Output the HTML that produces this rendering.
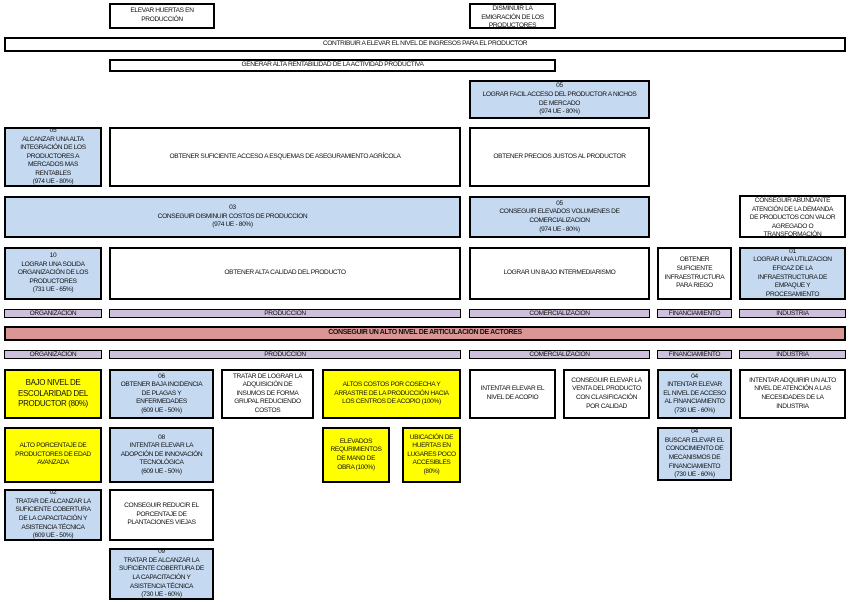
<!DOCTYPE html>
<html><head><meta charset="utf-8"><style>
body{margin:0;width:850px;height:602px;background:#fff;position:relative;overflow:hidden;font-family:"Liberation Sans",sans-serif;}
.b{position:absolute;box-sizing:border-box;border:2px solid #000;display:flex;align-items:center;justify-content:center;text-align:center;font-size:6.6px;letter-spacing:-0.35px;line-height:8.6px;color:#111;overflow:hidden;background:#fff;padding:0}
.bl{background:#c5d9f1}.lv{background:#ccc0da;border-width:1.5px;line-height:7px}.y{background:#ffff00}.r{background:#da9694;font-weight:bold;font-size:7px}
</style></head><body>
<div class="b" style="left:109px;top:3px;width:106px;height:26px">ELEVAR HUERTAS EN<br>PRODUCCIÓN</div>
<div class="b" style="left:469px;top:3px;width:87px;height:26px;align-items:flex-start">DISMINUIR LA<br>EMIGRACIÓN DE LOS<br>PRODUCTORES</div>
<div class="b" style="left:4px;top:37px;width:842px;height:15px">CONTRIBUIR A ELEVAR EL NIVEL DE INGRESOS PARA EL PRODUCTOR</div>
<div class="b" style="left:109px;top:59px;width:447px;height:13px">GENERAR ALTA RENTABILIDAD DE LA ACTIVIDAD PRODUCTIVA</div>
<div class="b bl" style="left:469px;top:80px;width:181px;height:39px">05<br>LOGRAR FACIL ACCESO DEL PRODUCTOR A NICHOS<br>DE MERCADO<br>(974 UE - 80%)</div>
<div class="b bl" style="left:4px;top:127px;width:98px;height:60px">05<br>ALCANZAR UNA ALTA<br>INTEGRACIÓN DE LOS<br>PRODUCTORES A<br>MERCADOS MAS<br>RENTABLES<br>(974 UE - 80%)</div>
<div class="b" style="left:109px;top:127px;width:352px;height:60px">OBTENER SUFICIENTE ACCESO A ESQUEMAS DE ASEGURAMIENTO AGRÍCOLA</div>
<div class="b" style="left:469px;top:127px;width:181px;height:60px">OBTENER PRECIOS JUSTOS AL PRODUCTOR</div>
<div class="b bl" style="left:4px;top:196px;width:457px;height:42px">03<br>CONSEGUIR DISMINUIR COSTOS DE PRODUCCION<br>(974 UE - 80%)</div>
<div class="b bl" style="left:469px;top:196px;width:181px;height:42px">05<br>CONSEGUIR ELEVADOS VOLUMENES DE<br>COMERCIALIZACION<br>(974 UE - 80%)</div>
<div class="b" style="left:739px;top:195px;width:107px;height:43px;align-items:flex-start">CONSEGUIR ABUNDANTE<br>ATENCIÓN DE LA DEMANDA<br>DE PRODUCTOS CON VALOR<br>AGREGADO O<br>TRANSFORMACIÓN</div>
<div class="b bl" style="left:4px;top:247px;width:98px;height:53px">10<br>LOGRAR UNA SOLIDA<br>ORGANIZACIÓN DE LOS<br>PRODUCTORES<br>(731 UE - 65%)</div>
<div class="b" style="left:109px;top:247px;width:352px;height:53px">OBTENER ALTA CALIDAD DEL PRODUCTO</div>
<div class="b" style="left:469px;top:247px;width:181px;height:53px">LOGRAR UN BAJO INTERMEDIARISMO</div>
<div class="b" style="left:657px;top:247px;width:75px;height:53px">OBTENER<br>SUFICIENTE<br>INFRAESTRUCTURA<br>PARA RIEGO</div>
<div class="b bl" style="left:739px;top:247px;width:107px;height:53px">01<br>LOGRAR UNA UTILIZACION<br>EFICAZ DE LA<br>INFRAESTRUCTURA DE<br>EMPAQUE Y<br>PROCESAMIENTO</div>
<div class="b lv" style="left:4px;top:309px;width:98px;height:9px">ORGANIZACIÓN</div>
<div class="b lv" style="left:109px;top:309px;width:352px;height:9px">PRODUCCION</div>
<div class="b lv" style="left:469px;top:309px;width:181px;height:9px">COMERCIALIZACION</div>
<div class="b lv" style="left:657px;top:309px;width:75px;height:9px">FINANCIAMIENTO</div>
<div class="b lv" style="left:739px;top:309px;width:107px;height:9px">INDUSTRIA</div>
<div class="b r" style="left:4px;top:326px;width:842px;height:15px">CONSEGUIR UN ALTO NIVEL DE ARTICULACIÓN DE ACTORES</div>
<div class="b lv" style="left:4px;top:350px;width:98px;height:9px">ORGANIZACIÓN</div>
<div class="b lv" style="left:109px;top:350px;width:352px;height:9px">PRODUCCION</div>
<div class="b lv" style="left:469px;top:350px;width:181px;height:9px">COMERCIALIZACION</div>
<div class="b lv" style="left:657px;top:350px;width:75px;height:9px">FINANCIAMIENTO</div>
<div class="b lv" style="left:739px;top:350px;width:107px;height:9px">INDUSTRIA</div>
<div class="b y" style="left:4px;top:369px;width:98px;height:50px;font-size:8px;line-height:10.5px">BAJO NIVEL DE<br>ESCOLARIDAD DEL<br>PRODUCTOR (80%)</div>
<div class="b bl" style="left:109px;top:369px;width:105px;height:50px">06<br>OBTENER BAJA INCIDENCIA<br>DE PLAGAS Y<br>ENFERMEDADES<br>(609 UE - 50%)</div>
<div class="b" style="left:221px;top:369px;width:93px;height:50px">TRATAR DE LOGRAR LA<br>ADQUISICIÓN DE<br>INSUMOS DE FORMA<br>GRUPAL REDUCIENDO<br>COSTOS</div>
<div class="b y" style="left:322px;top:369px;width:139px;height:50px">ALTOS COSTOS POR COSECHA Y<br>ARRASTRE DE LA PRODUCCIÓN HACIA<br>LOS CENTROS DE ACOPIO (100%)</div>
<div class="b" style="left:469px;top:369px;width:87px;height:50px">INTENTAR ELEVAR EL<br>NIVEL DE ACOPIO</div>
<div class="b" style="left:563px;top:369px;width:87px;height:50px">CONSEGUIR ELEVAR LA<br>VENTA DEL PRODUCTO<br>CON CLASIFICACIÓN<br>POR CALIDAD</div>
<div class="b bl" style="left:657px;top:369px;width:75px;height:50px">04<br>INTENTAR ELEVAR<br>EL NIVEL DE ACCESO<br>AL FINANCIAMIENTO<br>(730 UE - 60%)</div>
<div class="b" style="left:739px;top:369px;width:107px;height:50px">INTENTAR ADQUIRIR UN ALTO<br>NIVEL DE ATENCIÓN A LAS<br>NECESIDADES DE LA<br>INDUSTRIA</div>
<div class="b y" style="left:4px;top:427px;width:98px;height:56px">ALTO PORCENTAJE DE<br>PRODUCTORES DE EDAD<br>AVANZADA</div>
<div class="b bl" style="left:109px;top:427px;width:105px;height:56px">08<br>INTENTAR ELEVAR LA<br>ADOPCIÓN DE INNOVACIÓN<br>TECNOLÓGICA<br>(609 UE - 50%)</div>
<div class="b y" style="left:322px;top:427px;width:68px;height:56px">ELEVADOS<br>REQURIMIENTOS<br>DE MANO DE<br>OBRA (100%)</div>
<div class="b y" style="left:402px;top:427px;width:59px;height:56px">UBICACIÓN DE<br>HUERTAS EN<br>LUGARES POCO<br>ACCESIBLES<br>(80%)</div>
<div class="b bl" style="left:657px;top:427px;width:75px;height:54px">04<br>BUSCAR ELEVAR EL<br>CONOCIMIENTO DE<br>MECANISMOS DE<br>FINANCIAMIENTO<br>(730 UE - 60%)</div>
<div class="b bl" style="left:4px;top:489px;width:98px;height:52px">02<br>TRATAR DE ALCANZAR LA<br>SUFICIENTE COBERTURA<br>DE LA CAPACITACIÓN Y<br>ASISTENCIA TÉCNICA<br>(609 UE - 50%)</div>
<div class="b" style="left:109px;top:489px;width:105px;height:52px">CONSEGUIR REDUCIR EL<br>PORCENTAJE DE<br>PLANTACIONES VIEJAS</div>
<div class="b bl" style="left:109px;top:548px;width:105px;height:52px">09<br>TRATAR DE ALCANZAR LA<br>SUFICIENTE COBERTURA DE<br>LA CAPACITACIÓN Y<br>ASISTENCIA TÉCNICA<br>(730 UE - 60%)</div>
</body></html>
